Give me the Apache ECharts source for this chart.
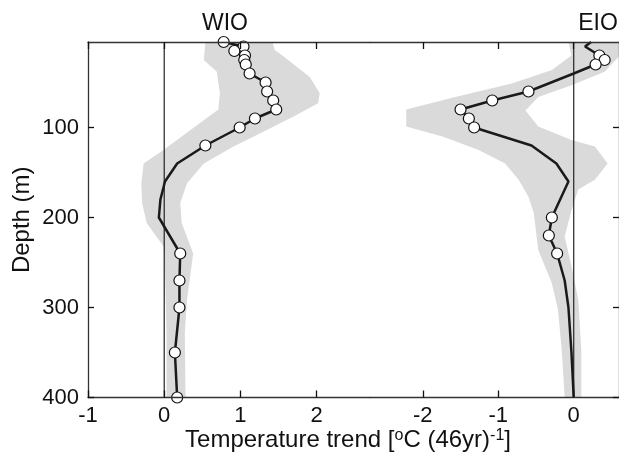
<!DOCTYPE html>
<html>
<head>
<meta charset="utf-8">
<script src="https://cdn.jsdelivr.net/npm/echarts@6/dist/echarts.min.js"></script>
<style>
html,body{margin:0;padding:0;background:#fff;}
#chart{width:619px;height:456px;}
</style>
</head>
<body>
<div id="chart"></div>
<script>
// ---- WIO profile ----
var wioDepth = [5,10,15,20,25,30,40,50,60,70,80,90,100,120,140,160,180,200,240,270,300,350,400];
var wioTrend = [0.78,1.04,0.92,1.06,1.05,1.07,1.12,1.33,1.35,1.43,1.47,1.19,0.99,0.54,0.17,0.01,-0.05,-0.07,0.21,0.20,0.20,0.14,0.17];
var wioSig   = [1,1,1,1,1,1,1,1,1,1,1,1,1,1,0,0,0,0,1,1,1,1,1];
// WIO uncertainty band
var wioBandLoDepth = [5,25,38,62,80,103,125,140,162,184,206,232,254,328,400];
var wioBandLo      = [0.54,0.52,0.69,0.73,0.71,0.34,-0.01,-0.27,-0.30,-0.29,-0.23,-0.01,0.01,0.03,0.03];
var wioBandHiDepth = [5,14,20,44,62,73,88,103,121,140,162,184,206,240,291,328,400];
var wioBandHi      = [1.42,1.45,1.55,1.91,2.04,2.02,1.69,1.34,0.91,0.52,0.30,0.21,0.23,0.38,0.30,0.27,0.28];

// ---- EIO profile ----
var eioDepth = [5,10,20,25,30,40,50,60,70,80,90,100,120,140,160,200,220,240,270,300,350,400];
var eioTrend = [0.23,0.15,0.34,0.41,0.29,0.00,-0.30,-0.60,-1.08,-1.50,-1.39,-1.32,-0.56,-0.23,-0.07,-0.29,-0.33,-0.22,-0.12,-0.07,-0.03,0.00];
var eioSig   = [0,0,1,1,1,0,0,1,1,1,1,1,0,0,0,1,1,1,0,0,0,0];
// EIO uncertainty band
var eioBandLoDepth = [5,20,36,51,66,80,99,110,125,140,158,177,195,236,273,302,346,400];
var eioBandLo      = [-0.07,-0.03,-0.29,-0.82,-1.57,-2.22,-2.22,-1.74,-1.26,-0.91,-0.73,-0.60,-0.53,-0.47,-0.29,-0.21,-0.16,-0.12];
var eioBandHiDepth = [5,21,38,53,66,81,99,114,121,140,158,169,192,221,254,291,346,400];
var eioBandHi      = [0.60,0.60,0.41,-0.03,-0.47,-0.64,-0.47,-0.03,0.28,0.45,0.28,0.06,-0.03,-0.12,-0.03,0.06,0.10,0.10];

// ---- axes ----
var wioTicks = [-1,0,1,2];
var eioTicks = [-2,-1,0];
var depthTicks = [100,200,300,400];

var FONT = "'Liberation Sans', Arial, Helvetica, sans-serif";
var GRAY = '#dadada';

function pairs(xs, ds){ return ds.map(function(d,i){ return [xs[i], d]; }); }
function sigPairs(xs, ds, s){ var r=[]; ds.forEach(function(d,i){ if(s[i]) r.push([xs[i], d]); }); return r; }

function bandSeries(idx, loX, loD, hiX, hiD){
  return {
    type:'custom', xAxisIndex: idx*2, yAxisIndex: idx, clip: true, silent: true, z: 1,
    data: [[0, 100]],
    renderItem: function(params, api){
      var pts = [];
      for (var i=0;i<loD.length;i++) pts.push(api.coord([loX[i], loD[i]]));
      for (var j=hiD.length-1;j>=0;j--) pts.push(api.coord([hiX[j], hiD[j]]));
      return {type:'polygon', shape:{points: pts}, style:{fill: GRAY}};
    }
  };
}
function zeroLine(idx){
  return {type:'line', xAxisIndex: idx*2, yAxisIndex: idx, data: [[0,5],[0,400]], symbol:'none',
          lineStyle:{color:'#222', width:1.2}, z: 2, silent: true};
}
function profile(idx, xs, ds){
  return {type:'line', xAxisIndex: idx*2, yAxisIndex: idx, data: pairs(xs, ds), symbol:'none',
          lineStyle:{color:'#1a1a1a', width:2.5}, z: 3, silent: true};
}
function circles(idx, xs, ds, s){
  return {type:'scatter', xAxisIndex: idx*2, yAxisIndex: idx, data: sigPairs(xs, ds, s), symbol:'circle',
          symbolSize: 11, clip: false,
          itemStyle:{color:'#fff', borderColor:'#111', borderWidth:1.2, opacity:1}, z: 4, silent: true};
}
function xAx(grid, pos, min, max, ticks, showLabel){
  return {type:'value', gridIndex: grid, position: pos, min: min, max: max,
    axisLine:{show:true, onZero:false, lineStyle:{color:'#333', width:1.3}},
    axisTick:{show:true, inside:true, length:7, customValues: ticks, lineStyle:{color:'#111', width:1.3}},
    axisLabel:{show: showLabel, customValues: ticks, fontSize:22, color:'#111', fontFamily: FONT, margin:7},
    splitLine:{show:false}, z: 5};
}
function yAx(grid, pos, showLabel){
  return {type:'value', gridIndex: grid, position: pos, min: 5, max: 400, inverse: true,
    axisLine:{show:true, onZero:false, lineStyle:{color:'#333', width:1.3}},
    axisTick:{show:true, inside:true, length:6, customValues: depthTicks, lineStyle:{color:'#111', width:1.3}},
    axisLabel:{show: showLabel, customValues: depthTicks, fontSize:22, color:'#111', fontFamily: FONT, margin:9},
    splitLine:{show:false}, z: 5,
    name: showLabel ? 'Depth (m)' : '', nameLocation:'middle', nameGap: 54, nameRotate: 90,
    nameTextStyle:{fontSize:24, color:'#111', fontFamily: FONT}};
}

var chart = echarts.init(document.getElementById('chart'), null, {renderer:'canvas'});
chart.setOption({
  animation: false,
  backgroundColor: '#fff',
  grid: [
    {left: 88, top: 42, width: 282, height: 355.5},
    {left: 370, top: 42, width: 251, height: 355.5}
  ],
  xAxis: [
    xAx(0,'bottom',-1,2.7,wioTicks,true),
    xAx(0,'top',-1,2.7,wioTicks,false),
    xAx(1,'bottom',-2.7,0.6,eioTicks,true),
    xAx(1,'top',-2.7,0.6,eioTicks,false)
  ],
  yAxis: [ yAx(0,'left',true), yAx(1,'right',false) ],
  graphic: [
    {type:'text', x:225, y:24, style:{text:'WIO', font:'23px ' + FONT, fill:'#111', align:'center', verticalAlign:'middle'}},
    {type:'text', x:598, y:24, style:{text:'EIO', font:'23px ' + FONT, fill:'#111', align:'center', verticalAlign:'middle'}},
    {type:'text', x:348, y:440, style:{
      text:'Temperature trend [{sup|o}C (46yr){sup|-1}]',
      font:'24px ' + FONT, fill:'#111', align:'center', verticalAlign:'middle',
      rich:{sup:{fontSize:16, fontFamily: FONT, verticalAlign:'top', lineHeight: 24}}
    }}
  ],
  series: [
    bandSeries(0, wioBandLo, wioBandLoDepth, wioBandHi, wioBandHiDepth),
    bandSeries(1, eioBandLo, eioBandLoDepth, eioBandHi, eioBandHiDepth),
    zeroLine(0), zeroLine(1),
    profile(0, wioTrend, wioDepth), profile(1, eioTrend, eioDepth),
    circles(0, wioTrend, wioDepth, wioSig), circles(1, eioTrend, eioDepth, eioSig)
  ]
});
</script>
</body>
</html>
